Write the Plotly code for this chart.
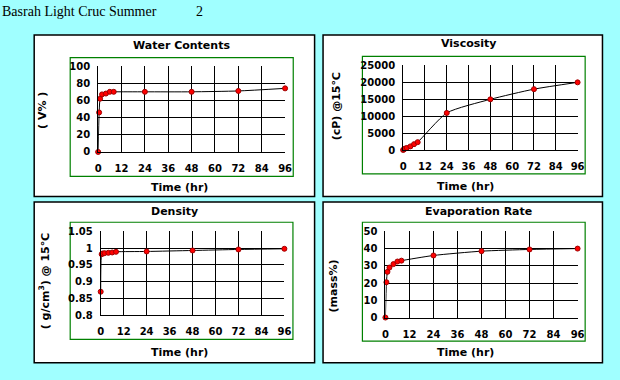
import plotly.graph_objects as go

W, H = 620, 380

time_hr = [0, 0.5, 1, 2, 4, 6, 8, 24, 48, 72, 96]
water_content = [0, 46, 62, 67, 68, 70, 70, 70, 70, 71, 74]
viscosity = [100, 300, 500, 700, 1150, 1800, 2400, 11000, 15000, 18000, 20000]
density = [0.87, 0.982, 0.984, 0.985, 0.986, 0.987, 0.989, 0.990, 0.993, 0.996, 0.998]
evaporation = [0, 20.5, 26.5, 29, 31, 32.5, 33, 36, 38.5, 39.5, 40]

x_ticks = [0, 12, 24, 36, 48, 60, 72, 84, 96]
x_grid = [12, 24, 36, 48, 60, 72, 84]
water_ticks = [0, 20, 40, 60, 80, 100]
visc_ticks = [0, 5000, 10000, 15000, 20000, 25000]
dens_ticks = [0.8, 0.85, 0.9, 0.95, 1.0, 1.05]
dens_ticklabels = ["0.8", "0.85", "0.9", "0.95", "1", "1.05"]
evap_ticks = [0, 10, 20, 30, 40, 50]

main_title = "Basrah Light Cruc Summer"
main_title_num = "2"
panel_titles = ["Water Contents", "Viscosity", "Density", "Evaporation Rate"]
y_titles = ["( V% )", "(cP) @15℃", "( g/cm<sup>3</sup>) @ 15℃", "(mass%)"]
x_title = "Time (hr)"


def px(x):
    return x / W


def py(y):
    return 1 - y / H


fig = go.Figure()

series = [water_content, viscosity, density, evaporation]
for i, s in enumerate(series):
    ax = "" if i == 0 else str(i + 1)
    fig.add_trace(go.Scatter(
        x=time_hr, y=s, mode="lines+markers",
        line=dict(color="black", width=1, shape="spline", smoothing=0.6),
        marker=dict(color="#ff0000", size=5, line=dict(color="#a00000", width=1)),
        cliponaxis=False, showlegend=False,
        xaxis="x" + ax, yaxis="y" + ax,
    ))

# panel geometry in pixels
panels = [(31.7, 30, 316.7, 196.7), (325.3, 30, 609.3, 196.7),
          (31.7, 202.3, 316.7, 368.3), (325.3, 202.3, 609.3, 368.3)]
frames = [(68.3, 53.3, 295, 176), (365.3, 52, 591.7, 173.3),
          (68.3, 223.3, 294.7, 344.3), (365.3, 223.3, 591.7, 346)]
plots = [(96.7, 62, 286.7, 150.7), (406.7, 61.3, 584, 149), (99.3, 232.7, 286, 319.3), (388.7, 232.7, 584, 321.7)]
ranges = [[0, 100], [0, 25000], [0.8, 1.05], [0, 50]]
ytv = [water_ticks, visc_ticks, dens_ticks, evap_ticks]
ytt = [[str(v) for v in water_ticks], [str(v) for v in visc_ticks], dens_ticklabels, [str(v) for v in evap_ticks]]

shapes = []
for (x0, y0, x1, y1) in panels:
    shapes.append(dict(type="rect", xref="paper", yref="paper", x0=px(x0), x1=px(x1), y0=py(y1), y1=py(y0),
                       fillcolor="white", line=dict(color="black", width=1.5), layer="below"))
for (x0, y0, x1, y1) in frames:
    shapes.append(dict(type="rect", xref="paper", yref="paper", x0=px(x0), x1=px(x1), y0=py(y1), y1=py(y0),
                       fillcolor="rgba(0,0,0,0)", line=dict(color="#008000", width=1.2), layer="below"))

tickfont = dict(family="DejaVu Sans", size=10, color="black", weight="bold")
layout = dict(width=W, height=H, margin=dict(l=0, r=0, t=0, b=0),
              paper_bgcolor="#a0ffff", plot_bgcolor="white", shapes=shapes)

for i, (x0, y0, x1, y1) in enumerate(plots):
    ax = "" if i == 0 else str(i + 1)
    layout["xaxis" + ax] = dict(
        domain=[px(x0), px(x1)], range=[0, 96], anchor="y" + ax,
        tickvals=x_ticks, ticktext=[str(v) for v in x_ticks],
        showgrid=False,
        minor=dict(tickvals=x_grid, showgrid=True, gridcolor="black", gridwidth=1, ticks=""),
        showline=True, linecolor="black", linewidth=1,
        ticks="", ticklabelstandoff=7, tickfont=tickfont, zeroline=False, fixedrange=True,
    )
    layout["yaxis" + ax] = dict(
        domain=[py(y1), py(y0)], range=ranges[i], anchor="x" + ax,
        tickvals=ytv[i], ticktext=ytt[i],
        showgrid=True, gridcolor="black", gridwidth=1,
        showline=True, linecolor="black", linewidth=1,
        ticks="", ticklabelstandoff=5, tickfont=tickfont, zeroline=False, fixedrange=True,
    )

fig.update_layout(**layout)

ann = []
ann.append(dict(text=main_title, x=px(-3), y=py(6), xref="paper", yref="paper", xanchor="left", yanchor="middle",
                showarrow=False, font=dict(family="Liberation Serif", size=14, color="black")))
ann.append(dict(text=main_title_num, x=px(194), y=py(6), xref="paper", yref="paper", xanchor="left", yanchor="middle",
                showarrow=False, font=dict(family="Liberation Serif", size=14, color="black")))

title_pos = [(181, 41), (473, 39), (174, 212), (483, 212)]
ytitle_pos = [(40, 108), (339, 104), (42, 284), (336, 289)]
xtitle_pos = [(179, 187), (470, 186), (179, 358), (470, 358)]
bold = dict(family="DejaVu Sans", size=11, color="black", weight="bold")
for i in range(4):
    ann.append(dict(text=panel_titles[i], x=px(title_pos[i][0]), y=py(title_pos[i][1]), xref="paper", yref="paper",
                    showarrow=False, font=bold, xanchor="center", yanchor="middle"))
    ann.append(dict(text=y_titles[i], x=px(ytitle_pos[i][0]), y=py(ytitle_pos[i][1]), xref="paper", yref="paper",
                    showarrow=False, font=bold, textangle=-90, xanchor="center", yanchor="middle"))
    ann.append(dict(text=x_title, x=px(xtitle_pos[i][0]), y=py(xtitle_pos[i][1]), xref="paper", yref="paper",
                    showarrow=False, font=bold, xanchor="center", yanchor="middle"))

fig.update_layout(annotations=ann)
fig.write_html("out.html", config={"displayModeBar": False},
               post_script="document.body.style.margin='0';document.body.style.padding='0';")
